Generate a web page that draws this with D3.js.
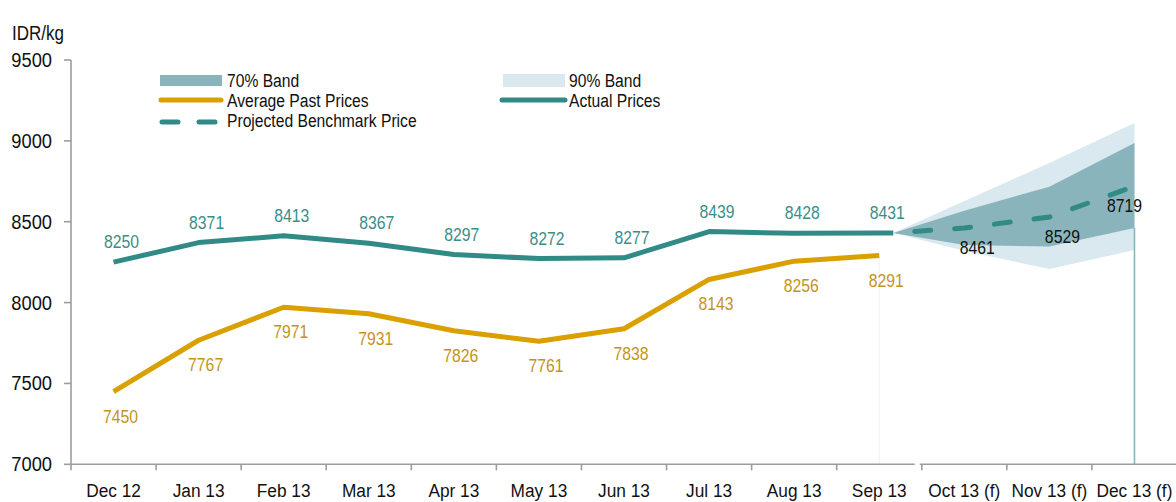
<!DOCTYPE html>
<html>
<head>
<meta charset="utf-8">
<script src="https://cdn.jsdelivr.net/npm/d3@7"></script>
<style>
  html, body { margin: 0; padding: 0; background: #ffffff; }
  svg { display: block; font-family: "Liberation Sans", Arial, sans-serif; }
</style>
</head>
<body>
<svg id="chart" width="1176" height="502"></svg>
<script>
// ---------------- data ----------------
const categories = ["Dec 12", "Jan 13", "Feb 13", "Mar 13", "Apr 13", "May 13", "Jun 13",
                    "Jul 13", "Aug 13", "Sep 13", "Oct 13 (f)", "Nov 13 (f)", "Dec 13 (f)"];
const pastMonths = categories.slice(0, 10);
const actualPrices = [8250, 8371, 8413, 8367, 8297, 8272, 8277, 8439, 8428, 8431];
const averagePastPrices = [7450, 7767, 7971, 7931, 7826, 7761, 7838, 8143, 8256, 8291];
const forecastMonths = ["Oct 13 (f)", "Nov 13 (f)", "Dec 13 (f)"];
const projectedPrice = [8461, 8529, 8719];
const band70Upper = [8568, 8717, 8987];
const band70Lower = [8356, 8347, 8461];
const band90Upper = [8628, 8863, 9111];
const band90Lower = [8320, 8207, 8325];
const yTicks = [7000, 7500, 8000, 8500, 9000, 9500];
const yUnit = "IDR/kg";
const legendItems = ["70% Band", "90% Band", "Average Past Prices", "Actual Prices", "Projected Benchmark Price"];

// ---------------- styles ----------------
const C = {
  teal: "#318a85", tealText: "#3a8e89", gold: "#d9a000", goldText: "#c4931c",
  band70: "#8ab4bc", band90: "#d9e9ef", axis: "#9c9c9c", text: "#111111"
};

const svg = d3.select("#chart");
const x = d3.scaleBand().domain(categories).range([71, 1177]).padding(0);
const y = d3.scaleLinear().domain([7000, 9500]).range([464.3, 60]);
const cx = d => x(d) + x.bandwidth() / 2;

function label(g, px, py, str, opt) {
  return g.append("text")
    .attr("transform", `translate(${px},${py}) scale(${opt.sx || 1},1)`)
    .attr("text-anchor", opt.anchor || "middle")
    .attr("font-size", opt.size || 19)
    .attr("fill", opt.fill || C.text)
    .text(str);
}

// ---------------- forecast bands ----------------
// the forecast fan starts just after the last actual observation
const startX = cx("Sep 13") + x.bandwidth() * 0.165;
const startVal = actualPrices[actualPrices.length - 1];
const fc = forecastMonths.map((m, i) => ({
  m, x: cx(m), p: projectedPrice[i], u70: band70Upper[i], l70: band70Lower[i],
  u90: band90Upper[i], l90: band90Lower[i]
}));
const fcAll = [{ m: "start", x: startX, p: startVal, u70: startVal, l70: startVal, u90: startVal, l90: startVal }].concat(fc);

const area90 = d3.area().x(d => d.x).y0(d => y(d.l90)).y1(d => y(d.u90));
const area70 = d3.area().x(d => d.x).y0(d => y(d.l70)).y1(d => y(d.u70));
svg.append("path").datum(fcAll).attr("d", area90).attr("fill", C.band90);
svg.append("path").datum(fcAll).attr("d", area70).attr("fill", C.band70);

// faint drop line at last actual month and right-edge line of the fan
svg.append("line").attr("x1", cx("Sep 13")).attr("x2", cx("Sep 13"))
  .attr("y1", y(averagePastPrices[averagePastPrices.length - 1])).attr("y2", y(7000))
  .attr("stroke", "#edf3f5").attr("stroke-width", 1.2);
const lastFc = fc[fc.length - 1];
svg.append("line").attr("x1", lastFc.x).attr("x2", lastFc.x)
  .attr("y1", y(lastFc.l70)).attr("y2", y(7000))
  .attr("stroke", C.band70).attr("stroke-width", 1.6);

// ---------------- axes ----------------
const axisG = svg.append("g");
axisG.append("line").attr("x1", 71).attr("x2", 71).attr("y1", y(9500)).attr("y2", y(7000))
  .attr("stroke", C.axis).attr("stroke-width", 1.6);
yTicks.forEach(t => {
  axisG.append("line").attr("x1", 64).attr("x2", 71).attr("y1", y(t)).attr("y2", y(t))
    .attr("stroke", C.axis).attr("stroke-width", 1.6);
  label(axisG, 52, y(t) + 7, t, { anchor: "end", size: 19.5, sx: 0.94 });
});
label(axisG, 12, 40, yUnit, { anchor: "start", size: 19.5, sx: 0.87 });

// x axis: broken between actual and forecast months
const splitX = x("Oct 13 (f)");
axisG.append("line").attr("x1", 71).attr("x2", splitX - 7).attr("y1", y(7000)).attr("y2", y(7000))
  .attr("stroke", C.axis).attr("stroke-width", 1.6);
axisG.append("line").attr("x1", splitX - 2).attr("x2", 1177).attr("y1", y(7000)).attr("y2", y(7000))
  .attr("stroke", C.axis).attr("stroke-width", 1.6);
categories.forEach(c => {
  axisG.append("line").attr("x1", x(c)).attr("x2", x(c)).attr("y1", y(7000)).attr("y2", y(7000) + 6)
    .attr("stroke", C.axis).attr("stroke-width", 1.6);
  label(axisG, cx(c), 497, c, { size: 19, sx: 0.91 });
});

// ---------------- lines ----------------
const lineGen = d3.line().x(d => d[0]).y(d => y(d[1]));
const avgPts = pastMonths.map((m, i) => [cx(m), averagePastPrices[i]]);
const actPts = pastMonths.map((m, i) => [cx(m), actualPrices[i]]).concat([[startX, startVal]]);

svg.append("path").datum(avgPts).attr("d", lineGen).attr("fill", "none")
  .attr("stroke", C.gold).attr("stroke-width", 5).attr("stroke-linejoin", "round");
svg.append("path").datum(actPts).attr("d", lineGen).attr("fill", "none")
  .attr("stroke", C.teal).attr("stroke-width", 5).attr("stroke-linejoin", "round");
svg.append("path").datum(fcAll.map(d => [d.x, d.p])).attr("d", lineGen).attr("fill", "none")
  .attr("stroke", C.teal).attr("stroke-width", 5).attr("stroke-linecap", "round")
  .attr("stroke-dasharray", "16,24").attr("stroke-dashoffset", 18.5);

// ---------------- data labels ----------------
const lblG = svg.append("g");
pastMonths.forEach((m, i) => {
  label(lblG, cx(m) + 8, y(actualPrices[i]) - 14, actualPrices[i], { fill: C.tealText, sx: 0.83 });
  label(lblG, cx(m) + 7, y(averagePastPrices[i]) + 31, averagePastPrices[i], { fill: C.goldText, sx: 0.83 });
});
fc.forEach((d, i) => {
  const dx = i === fc.length - 1 ? -10 : 13;
  label(lblG, d.x + dx, y(d.p) + 26, d.p, { fill: C.text, sx: 0.83 });
});

// ---------------- legend ----------------
const lg = svg.append("g");
lg.append("rect").attr("x", 160).attr("y", 75).attr("width", 62).attr("height", 11).attr("fill", C.band70);
label(lg, 227, 87, legendItems[0], { anchor: "start", size: 18, sx: 0.87 });
lg.append("rect").attr("x", 503).attr("y", 74).attr("width", 62).attr("height", 13).attr("fill", C.band90);
label(lg, 569, 87, legendItems[1], { anchor: "start", size: 18, sx: 0.87 });
lg.append("line").attr("x1", 161).attr("x2", 221).attr("y1", 100).attr("y2", 100)
  .attr("stroke", C.gold).attr("stroke-width", 5).attr("stroke-linecap", "round");
label(lg, 227, 106.5, legendItems[2], { anchor: "start", size: 18, sx: 0.87 });
lg.append("line").attr("x1", 502).attr("x2", 565).attr("y1", 100).attr("y2", 100)
  .attr("stroke", C.teal).attr("stroke-width", 5).attr("stroke-linecap", "round");
label(lg, 569, 106.5, legendItems[3], { anchor: "start", size: 18, sx: 0.87 });
lg.append("line").attr("x1", 162).attr("x2", 218).attr("y1", 122).attr("y2", 122)
  .attr("stroke", C.teal).attr("stroke-width", 5).attr("stroke-linecap", "round")
  .attr("stroke-dasharray", "16,21");
label(lg, 227, 126.5, legendItems[4], { anchor: "start", size: 18, sx: 0.87 });
</script>
</body>
</html>
